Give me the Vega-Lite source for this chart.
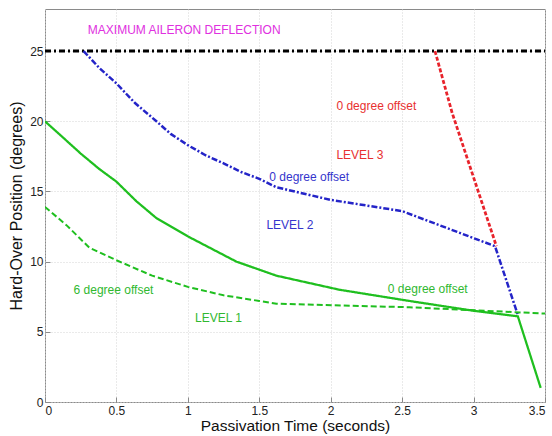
{
  "$schema": "https://vega.github.io/schema/vega-lite/v6.json",
  "description": "Hard-over position vs passivation time for three levels",
  "autosize": "none",
  "padding": {"left": 45, "top": 9, "right": 7, "bottom": 34},
  "width": 500,
  "height": 393,
  "background": "white",
  "config": {
    "font": "Liberation Sans",
    "view": {"stroke": "#8a8a8a", "strokeWidth": 1},
    "axis": {
      "grid": true,
      "gridColor": "#d4d4d4",
      "gridDash": [1, 2],
      "domain": false,
      "tickSize": -5,
      "tickColor": "#8a8a8a",
      "labelFont": "Liberation Sans",
      "labelFontSize": 12,
      "labelColor": "#222",
      "titleFont": "Liberation Sans",
      "titleFontWeight": "normal",
      "titleColor": "#111"
    }
  },
  "layer": [
    {
      "data": {
        "values": [
          {"series": "max", "t": 0, "pos": 25},
          {"series": "max", "t": 3.5, "pos": 25},
          {"series": "level3", "t": 2.73, "pos": 25},
          {"series": "level3", "t": 2.85, "pos": 20.6},
          {"series": "level3", "t": 3.16, "pos": 11.1},
          {"series": "level2", "t": 0.27, "pos": 25},
          {"series": "level2", "t": 0.38, "pos": 23.8},
          {"series": "level2", "t": 0.5, "pos": 22.7},
          {"series": "level2", "t": 0.63, "pos": 21.3},
          {"series": "level2", "t": 0.78, "pos": 20.0},
          {"series": "level2", "t": 0.88, "pos": 19.1},
          {"series": "level2", "t": 1.0, "pos": 18.3},
          {"series": "level2", "t": 1.12, "pos": 17.6},
          {"series": "level2", "t": 1.25, "pos": 17.0},
          {"series": "level2", "t": 1.37, "pos": 16.4},
          {"series": "level2", "t": 1.5, "pos": 15.9},
          {"series": "level2", "t": 1.62, "pos": 15.3},
          {"series": "level2", "t": 2.0, "pos": 14.4},
          {"series": "level2", "t": 2.5, "pos": 13.6},
          {"series": "level2", "t": 3.15, "pos": 11.1},
          {"series": "level2", "t": 3.31, "pos": 6.2},
          {"series": "level1_0", "t": 0, "pos": 20},
          {"series": "level1_0", "t": 0.12, "pos": 18.9},
          {"series": "level1_0", "t": 0.25, "pos": 17.7},
          {"series": "level1_0", "t": 0.38, "pos": 16.6},
          {"series": "level1_0", "t": 0.5, "pos": 15.7},
          {"series": "level1_0", "t": 0.64, "pos": 14.3},
          {"series": "level1_0", "t": 0.78, "pos": 13.1},
          {"series": "level1_0", "t": 1.0, "pos": 11.8},
          {"series": "level1_0", "t": 1.17, "pos": 10.9},
          {"series": "level1_0", "t": 1.34, "pos": 10.0},
          {"series": "level1_0", "t": 1.62, "pos": 9.0},
          {"series": "level1_0", "t": 2.06, "pos": 8.0},
          {"series": "level1_0", "t": 2.55, "pos": 7.2},
          {"series": "level1_0", "t": 3.0, "pos": 6.5},
          {"series": "level1_0", "t": 3.31, "pos": 6.1},
          {"series": "level1_0", "t": 3.47, "pos": 1.0},
          {"series": "level1_6", "t": 0, "pos": 13.9},
          {"series": "level1_6", "t": 0.15, "pos": 12.6},
          {"series": "level1_6", "t": 0.31, "pos": 11.0},
          {"series": "level1_6", "t": 0.5, "pos": 10.1},
          {"series": "level1_6", "t": 0.75, "pos": 9.0},
          {"series": "level1_6", "t": 1.0, "pos": 8.2},
          {"series": "level1_6", "t": 1.25, "pos": 7.6},
          {"series": "level1_6", "t": 1.5, "pos": 7.2},
          {"series": "level1_6", "t": 1.62, "pos": 7.0},
          {"series": "level1_6", "t": 2.55, "pos": 6.75},
          {"series": "level1_6", "t": 3.5, "pos": 6.3}
        ]
      },
      "mark": {"type": "line", "clip": true},
      "encoding": {
        "x": {
          "field": "t",
          "type": "quantitative",
          "scale": {"domain": [0, 3.5], "nice": false},
          "axis": {
            "values": [0, 0.5, 1, 1.5, 2, 2.5, 3, 3.5],
            "format": "~g",
            "title": "Passivation Time (seconds)",
            "titleFontSize": 15.5,
            "labelPadding": 8,
            "titlePadding": 2
          }
        },
        "y": {
          "field": "pos",
          "type": "quantitative",
          "scale": {"domain": [0, 28], "nice": false},
          "axis": {
            "values": [0, 5, 10, 15, 20, 25],
            "title": "Hard-Over Position (degrees)",
            "titleFontSize": 16,
            "labelPadding": 7,
            "titlePadding": 5
          }
        },
        "color": {
          "field": "series",
          "type": "nominal",
          "legend": null,
          "scale": {
            "domain": ["max", "level3", "level2", "level1_0", "level1_6"],
            "range": ["#000000", "#e8232b", "#2424c8", "#1fbf1f", "#1fbf1f"]
          }
        },
        "strokeDash": {
          "field": "series",
          "type": "nominal",
          "legend": null,
          "scale": {
            "domain": ["max", "level3", "level2", "level1_0", "level1_6"],
            "range": [[6, 3, 2, 3], [4, 2], [6, 2, 2, 2], [1, 0], [6, 3]]
          }
        },
        "strokeWidth": {
          "field": "series",
          "type": "nominal",
          "legend": null,
          "scale": {
            "domain": ["max", "level3", "level2", "level1_0", "level1_6"],
            "range": [3, 2, 2, 2, 2]
          }
        },
        "detail": {"field": "series"}
      }
    },
    {
      "data": {
        "values": [
          {"group": "Maximum", "t": 0.3, "pos": 26.5, "label": "MAXIMUM AILERON DEFLECTION"},
          {"group": "Level 3", "t": 2.04, "pos": 21.1, "label": "0 degree offset"},
          {"group": "Level 3", "t": 2.04, "pos": 17.6, "label": "LEVEL 3"},
          {"group": "Level 2", "t": 1.57, "pos": 16.0, "label": "0 degree offset"},
          {"group": "Level 2", "t": 1.55, "pos": 12.6, "label": "LEVEL 2"},
          {"group": "Level 1", "t": 0.2, "pos": 8.0, "label": "6 degree offset"},
          {"group": "Level 1", "t": 1.05, "pos": 6.0, "label": "LEVEL 1"},
          {"group": "Level 1", "t": 2.4, "pos": 8.05, "label": "0 degree offset"}
        ]
      },
      "mark": {"type": "text", "align": "left", "baseline": "middle", "fontSize": 12, "font": "Liberation Sans"},
      "encoding": {
        "x": {"field": "t", "type": "quantitative"},
        "y": {"field": "pos", "type": "quantitative"},
        "text": {"field": "label"},
        "color": {
          "field": "group",
          "type": "nominal",
          "legend": null,
          "scale": {
            "domain": ["Maximum", "Level 1", "Level 2", "Level 3"],
            "range": ["#e030e0", "#30b830", "#3535cc", "#e83030"]
          }
        }
      }
    }
  ],
  "resolve": {"scale": {"color": "independent"}}
}
